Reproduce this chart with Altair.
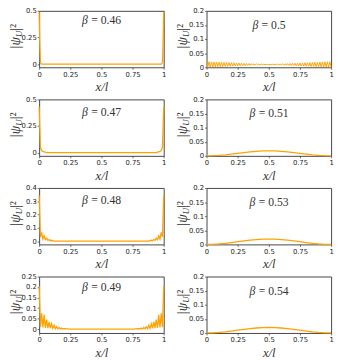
import altair as alt
import pandas as pd

# ---------------- data ----------------
X_TICKS = [0, 0.25, 0.5, 0.75, 1]

# beta = 0.46
b046_x = [0, 0.005, 0.01, 0.015, 0.02, 0.5, 0.98, 0.985, 0.99, 0.995, 1]
b046_y = [0.49, 0.2, 0.02, 0.004, 0.0, 0.0, 0.0, 0.004, 0.02, 0.2, 0.49]

# beta = 0.47
b047_x = [0, 0.01, 0.02, 0.03, 0.04, 0.05, 0.06, 0.5, 0.94, 0.95, 0.96, 0.97, 0.98, 0.99, 1]
b047_y = [0.43, 0.05, 0.02, 0.012, 0.008, 0.004, 0.0, 0.0, 0.0, 0.004, 0.008, 0.012, 0.02, 0.05, 0.43]

# beta = 0.48
b048_x = [0, 0.01, 0.02, 0.03, 0.04, 0.05, 0.06, 0.07, 0.08, 0.09, 0.10, 0.12, 0.5,
          0.88, 0.90, 0.91, 0.92, 0.93, 0.94, 0.95, 0.96, 0.97, 0.98, 0.99, 1]
b048_y = [0.345, 0.03, 0.065, 0.015, 0.04, 0.01, 0.022, 0.006, 0.012, 0.003, 0.006, 0.0, 0.0,
          0.0, 0.006, 0.003, 0.012, 0.006, 0.022, 0.01, 0.04, 0.015, 0.065, 0.03, 0.345]

# beta = 0.49
b049_x = [0, 0.01, 0.02, 0.03, 0.04, 0.05, 0.06, 0.07, 0.08, 0.09, 0.10,
          0.11, 0.12, 0.13, 0.14, 0.15, 0.16, 0.17, 0.18, 0.19, 0.20, 0.25, 0.5, 0.75,
          0.80, 0.81, 0.82, 0.83, 0.84, 0.85, 0.86, 0.87, 0.88, 0.89, 0.90,
          0.91, 0.92, 0.93, 0.94, 0.95, 0.96, 0.97, 0.98, 0.99, 1]
b049_y = [0.205, 0.01, 0.075, 0.008, 0.068, 0.006, 0.045, 0.005, 0.035, 0.004, 0.026,
          0.003, 0.018, 0.002, 0.012, 0.002, 0.008, 0.001, 0.005, 0.001, 0.003, 0.0, 0.0, 0.0,
          0.003, 0.001, 0.005, 0.001, 0.008, 0.002, 0.012, 0.002, 0.018, 0.003, 0.026,
          0.004, 0.035, 0.005, 0.045, 0.006, 0.068, 0.008, 0.075, 0.01, 0.205]

# beta = 0.5 : two interleaved sub-lattices
b050_even = [0.0200, 0.0196, 0.0192, 0.0188, 0.0184, 0.0180, 0.0176, 0.0172, 0.0168, 0.0164,
             0.0160, 0.0156, 0.0152, 0.0148, 0.0144, 0.0140, 0.0136, 0.0132, 0.0128, 0.0124,
             0.0120, 0.0116, 0.0112, 0.0108, 0.0104, 0.0100, 0.0096, 0.0092, 0.0088, 0.0084,
             0.0080, 0.0076, 0.0072, 0.0068, 0.0064, 0.0060, 0.0056, 0.0052, 0.0048, 0.0044,
             0.0040, 0.0036, 0.0032, 0.0028, 0.0024, 0.0020, 0.0016, 0.0012, 0.0008, 0.0004, 0.0000]
b050_odd = [0.0002, 0.0006, 0.0010, 0.0014, 0.0018, 0.0022, 0.0026, 0.0030, 0.0034, 0.0038,
            0.0042, 0.0046, 0.0050, 0.0054, 0.0058, 0.0062, 0.0066, 0.0070, 0.0074, 0.0078,
            0.0082, 0.0086, 0.0090, 0.0094, 0.0098, 0.0102, 0.0106, 0.0110, 0.0114, 0.0118,
            0.0122, 0.0126, 0.0130, 0.0134, 0.0138, 0.0142, 0.0146, 0.0150, 0.0154, 0.0158,
            0.0162, 0.0166, 0.0170, 0.0174, 0.0178, 0.0182, 0.0186, 0.0190, 0.0194, 0.0198]

# smooth bumps (beta = 0.51, 0.53, 0.54)
bump_x = [0, 0.05, 0.1, 0.15, 0.2, 0.25, 0.3, 0.35, 0.4, 0.45, 0.5,
          0.55, 0.6, 0.65, 0.7, 0.75, 0.8, 0.85, 0.9, 0.95, 1]
b051_y = [0, 0.0004, 0.0017, 0.0037, 0.0063, 0.0090, 0.0117, 0.0142, 0.0162, 0.0175, 0.0180,
          0.0175, 0.0162, 0.0142, 0.0117, 0.0090, 0.0063, 0.0037, 0.0017, 0.0004, 0]
b053_y = [0, 0.0005, 0.0018, 0.0039, 0.0066, 0.0095, 0.0124, 0.0150, 0.0171, 0.0185, 0.0190,
          0.0185, 0.0171, 0.0150, 0.0124, 0.0095, 0.0066, 0.0039, 0.0018, 0.0005, 0]
b054_y = [0, 0.0005, 0.0019, 0.0040, 0.0068, 0.0098, 0.0127, 0.0154, 0.0176, 0.0190, 0.0195,
          0.0190, 0.0176, 0.0154, 0.0127, 0.0098, 0.0068, 0.0040, 0.0019, 0.0005, 0]

# interleave beta=0.5 sub-lattices into one table
b050_x, b050_y = [], []
for i in range(len(b050_even)):
    b050_x.append(round(i * 0.02, 2))
    b050_y.append(b050_even[i])
    if i < len(b050_odd):
        b050_x.append(round(i * 0.02 + 0.01, 2))
        b050_y.append(b050_odd[i])

# ---------------- style ----------------
ORANGE = "#ffa200"
SERIF = "Liberation Serif"
TXT = "#333333"
W, H = 128, 58
NB = "\u00a0"


def beta_dx(val):
    rest = 12.8 + 6.0 * sum(c.isdigit() for c in val) + 3.0 * val.count(".")
    total = 6.0 + rest
    return -total / 2 + 6.0


def panel(xs, ys, beta, ydom, yticks, beta_y, sw=1.3):
    xenc = alt.X("x:Q", scale=alt.Scale(domain=[0, 1], nice=False, zero=False),
                 axis=alt.Axis(values=X_TICKS, format=".6~g", title="x/l"))
    yenc = alt.Y("y:Q", scale=alt.Scale(domain=ydom, nice=False, zero=False),
                 axis=alt.Axis(values=yticks, format=".6~g", title=None))
    df = pd.DataFrame({"x": xs, "y": ys})
    line = alt.Chart(df).mark_line(color=ORANGE, strokeWidth=sw).encode(x=xenc, y=yenc)
    lab = pd.DataFrame({"x": [0.5], "y": [beta_y]})
    d = beta_dx(beta)
    b_sym = alt.Chart(lab).mark_text(text="β", font=SERIF, fontStyle="italic", fontSize=12,
                                     align="right", baseline="middle", dx=d, color=TXT).encode(
        x=xenc, y=yenc)
    b_val = alt.Chart(lab).mark_text(text="=" + NB + beta, font=SERIF, fontSize=12,
                                     align="left", baseline="middle", dx=d + 3.5, color=TXT).encode(
        x=xenc, y=yenc)
    ty = H / 2 - 2
    one = pd.DataFrame({"k": [0]})
    t1 = alt.Chart(one).mark_text(text="|ψ", font=SERIF, fontStyle="italic", fontSize=14,
                                  angle=270, align="right", baseline="middle", color=TXT).encode(
        x=alt.value(-24), y=alt.value(ty))
    t2 = alt.Chart(one).mark_text(text="U", font=SERIF, fontStyle="italic", fontSize=9,
                                  angle=270, align="left", baseline="middle", dy=3, color=TXT).encode(
        x=alt.value(-24), y=alt.value(ty))
    t3 = alt.Chart(one).mark_text(text="|²", font=SERIF, fontSize=14,
                                  angle=270, align="left", baseline="middle", dx=6.5, color=TXT).encode(
        x=alt.value(-24), y=alt.value(ty))
    return alt.layer(line, b_sym, b_val, t1, t2, t3).properties(width=W, height=H)


R_TICKS = [0, 0.05, 0.1, 0.15, 0.2]
panels = [
    panel(b046_x, b046_y, "0.46", [-0.03, 0.5], [0, 0.25, 0.5], 0.41),
    panel(b050_x, b050_y, "0.5", [0, 0.2], R_TICKS, 0.15, sw=1.0),
    panel(b047_x, b047_y, "0.47", [-0.03, 0.5], [0, 0.25, 0.5], 0.38),
    panel(bump_x, b051_y, "0.51", [0, 0.2], R_TICKS, 0.15),
    panel(b048_x, b048_y, "0.48", [-0.025, 0.4], [0, 0.1, 0.2, 0.3, 0.4], 0.31),
    panel(bump_x, b053_y, "0.53", [0, 0.2], R_TICKS, 0.15),
    panel(b049_x, b049_y, "0.49", [-0.018, 0.25], [0, 0.05, 0.1, 0.15, 0.2, 0.25], 0.20),
    panel(bump_x, b054_y, "0.54", [0, 0.2], R_TICKS, 0.15),
]

chart = alt.concat(*panels, columns=2, spacing={"row": 0, "column": 8}).properties(
    padding={"left": 0, "top": -7, "right": 0, "bottom": 0}
).configure_view(
    stroke="#444444", strokeWidth=1
).configure_axis(
    domain=False, grid=False, tickColor="#444444", tickSize=2, tickWidth=0.8,
    labelFont="DejaVu Sans", labelFontSize=7, labelColor="#222222", labelPadding=1,
    labelFlush=False, labelOverlap=False,
    titleFont=SERIF, titleFontStyle="italic", titleFontWeight="normal",
    titleFontSize=13, titleColor=TXT, titlePadding=4,
)

chart.save("out.html", embed_options={"renderer": "svg", "actions": False})
